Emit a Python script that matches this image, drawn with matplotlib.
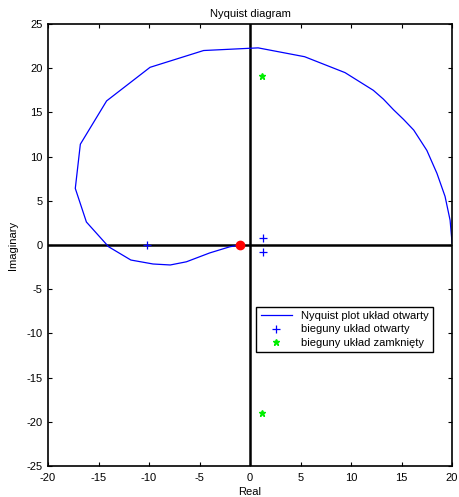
import numpy as np
import matplotlib as mpl
import matplotlib.pyplot as plt

mpl.rcParams['font.family'] = ['Liberation Sans', 'DejaVu Sans']
mpl.rcParams['font.size'] = 8
mpl.rcParams['axes.unicode_minus'] = False

# krzywa Nyquista
re = [20.3, 20.0, 19.8, 19.3, 18.5, 17.5, 16.2, 15.2, 14.2, 13.2, 12.2, 9.4, 5.4, 0.8, -4.6, -9.9,
      -14.2, -16.8, -17.3, -16.2, -14.0, -11.8, -9.6, -7.9, -6.3, -4.0, -2.0, -1.0]
im = [0.0, 0.2, 2.8, 5.5, 8.1, 10.7, 13.0, 14.2, 15.3, 16.5, 17.5, 19.5, 21.3, 22.3, 22.0, 20.1,
      16.3, 11.4, 6.4, 2.6, -0.2, -1.7, -2.15, -2.26, -1.9, -0.9, -0.2, 0.0]
# bieguny
ol_re = [-10.2, 1.25, 1.25]
ol_im = [0.0, 0.8, -0.8]
cl_re = [1.2, 1.2]
cl_im = [19.1, -19.0]

fig = plt.figure(figsize=(4.59, 4.97), dpi=100)
ax = fig.add_axes([0.1046, 0.0624, 0.8804, 0.8893])
ax.axhline(0, color='k', lw=1.8, zorder=1)
ax.axvline(0, color='k', lw=1.8, zorder=1)
ax.plot(re, im, color='b', lw=0.9, label='Nyquist plot układ otwarty')
ax.plot(ol_re, ol_im, '+', color='b', ms=6, mew=0.9, ls='none', label='bieguny układ otwarty')
ax.plot(cl_re, cl_im, '*', color='#00ee00', ms=4.5, ls='none', label='bieguny układ zamknięty')
ax.plot(-1, 0, 'o', color='r', ms=6, zorder=5)

ax.set_xlim(-20, 20)
ax.set_ylim(-25, 25)
ax.set_xticks(np.arange(-20, 21, 5))
ax.set_yticks(np.arange(-25, 26, 5))
ax.tick_params(direction='in', top=True, right=True, length=3)
ax.tick_params(axis='x', pad=5)
ax.tick_params(axis='y', pad=4)
for s in ax.spines.values():
    s.set_linewidth(1.2)
ax.set_title('Nyquist diagram', fontsize=8, pad=5)
ax.set_xlabel('Real', labelpad=3)
ax.set_ylabel('Imaginary', labelpad=6)

leg = ax.legend(loc='upper left', bbox_to_anchor=(0.515, 0.3604), fancybox=False,
                edgecolor='k', framealpha=1, borderaxespad=0, handlelength=2.8,
                borderpad=0.4, labelspacing=0.3, handletextpad=0.8)
leg.get_frame().set_linewidth(1.0)

plt.savefig('out.png', dpi=100)
